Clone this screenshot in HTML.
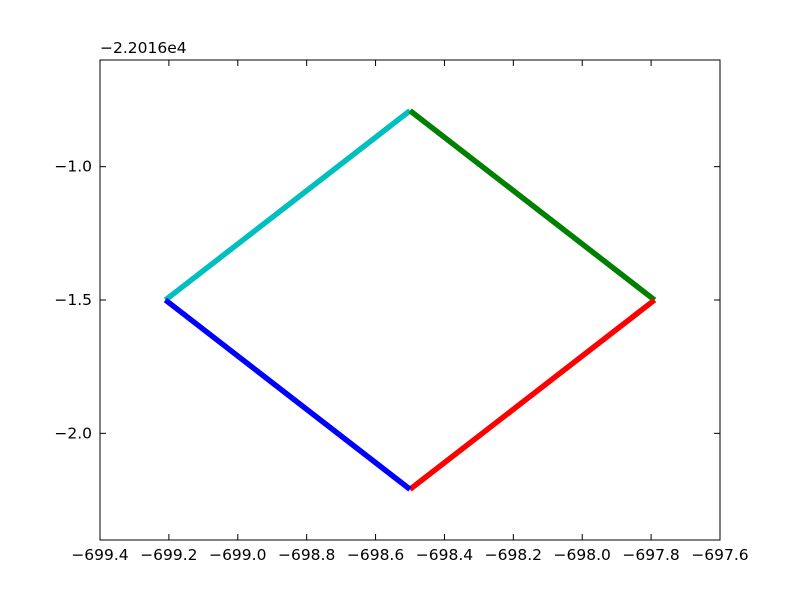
<!DOCTYPE html>
<html><head><meta charset="utf-8"><style>
body{margin:0;background:#fff}
svg{font-family:"DejaVu Sans","Liberation Sans",sans-serif;font-size:15.5px}
</style></head><body>
<svg width="800" height="600" id="c">
<rect width="800" height="600" fill="#fff"/>
<g id="plot"></g>
<rect x="100" y="60" width="620" height="480" fill="none" stroke="#000" stroke-width="1"/>
<text x="100" y="53">−2.2016e4</text>
</svg>
<script>
const xTicks=[-699.4,-699.2,-699.0,-698.8,-698.6,-698.4,-698.2,-698.0,-697.8,-697.6];
const yTicks=[-1.0,-1.5,-2.0];
const segX=[[-699.21,-698.5],[-698.5,-697.79],[-697.79,-698.5],[-698.5,-699.21]];
const segY=[[-1.5,-0.79],[-0.79,-1.5],[-1.5,-2.21],[-2.21,-1.5]];
const segColors=["#00bfbf","#008000","#ff0000","#0000ff"];
const segNames=["segment-cyan","segment-green","segment-red","segment-blue"];
const X0=-699.4,X1=-697.6,Y0=-2.4,Y1=-0.6;
const L=100,R=720,T=60,B=540;
const sx=v=>L+(v-X0)/(X1-X0)*(R-L);
const sy=v=>B-(v-Y0)/(Y1-Y0)*(B-T);
const NS="http://www.w3.org/2000/svg";
const g=document.getElementById('plot');
function mk(t,a){const e=document.createElementNS(NS,t);for(const k in a)e.setAttribute(k,a[k]);g.appendChild(e);return e;}
const fmt=v=>(v<0?"−":"")+Math.abs(v).toFixed(1);
segX.forEach((sxs,i)=>{
 const e=mk('line',{x1:sx(sxs[0]),y1:sy(segY[i][0]),x2:sx(sxs[1]),y2:sy(segY[i][1]),stroke:segColors[i],'stroke-width':5.5});
 
 
});
xTicks.forEach(v=>{
 const x=sx(v);
 const a=mk('line',{x1:x,y1:B,x2:x,y2:B-6,stroke:'#000'});
 
 
 const b=mk('line',{x1:x,y1:T,x2:x,y2:T+6,stroke:'#000'});
 
 
 const t=mk('text',{x:x,y:B+20,'text-anchor':'middle'});t.textContent=fmt(v);
 
 
});
yTicks.forEach(v=>{
 const y=sy(v);
 const a=mk('line',{x1:L,y1:y,x2:L+6,y2:y,stroke:'#000'});
 
 
 const b=mk('line',{x1:R,y1:y,x2:R-6,y2:y,stroke:'#000'});
 
 
 const t=mk('text',{x:L-8,y:y+5,'text-anchor':'end'});t.textContent=fmt(v);
 
 
});
</script>
</body></html>
